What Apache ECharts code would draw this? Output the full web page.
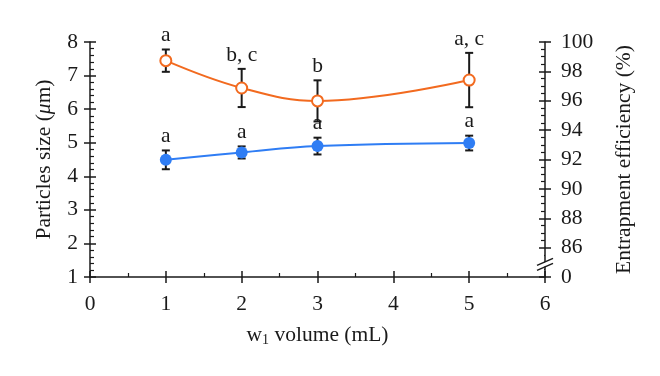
<!DOCTYPE html>
<html>
<head>
<meta charset="utf-8">
<script src="https://cdn.jsdelivr.net/npm/echarts@6/dist/echarts.min.js"></script>
<style>
  html, body { margin: 0; background: #fff; }
  #main { width: 660px; height: 376px; }
</style>
</head>
<body>
<div id="main"></div>
<script>
// w1 volume (mL)
const volumes = [1, 2, 3, 5];
// particles size (um), left axis
const sizeMean = [4.49, 4.71, 4.90, 4.99];
const sizeErr = [0.28, 0.18, 0.25, 0.22];
const sizeLetters = ['a', 'a', 'a', 'a'];
// entrapment efficiency (%), right axis
const eeMean = [98.73, 96.87, 95.99, 97.41];
const eeErr = [0.76, 1.30, 1.40, 1.85];
const eeLetters = ['a', 'b, c', 'b', 'a, c'];

const FONT = '"Liberation Serif", "DejaVu Serif", serif';
const FS = 21.5;
const INK = '#1a1a1a';

var myChart = echarts.init(document.getElementById('main'));

// error bars + significance letters
function errorBars(mean, err, letters, yIdx) {
    return {
        type: 'custom',
        yAxisIndex: yIdx,
        z: 4,
        silent: true,
        data: volumes.map((v, i) => [v, mean[i] - err[i], mean[i] + err[i]]),
        encode: { x: 0, y: [1, 2] },
        renderItem(params, api) {
            const lo = api.coord([api.value(0), api.value(1)]);
            const hi = api.coord([api.value(0), api.value(2)]);
            const w = 4;
            const st = { stroke: INK, lineWidth: 2 };
            return {
                type: 'group',
                children: [
                    { type: 'line', shape: { x1: lo[0], y1: lo[1], x2: hi[0], y2: hi[1] }, style: st },
                    { type: 'line', shape: { x1: lo[0] - w, y1: lo[1], x2: lo[0] + w, y2: lo[1] }, style: st },
                    { type: 'line', shape: { x1: hi[0] - w, y1: hi[1], x2: hi[0] + w, y2: hi[1] }, style: st },
                    {
                        type: 'text', x: hi[0], y: hi[1] - 3,
                        style: {
                            text: letters[params.dataIndex], fill: INK,
                            font: FS + 'px ' + FONT, align: 'center', verticalAlign: 'bottom'
                        }
                    }
                ]
            };
        }
    };
}

const axisLine = { show: true, onZero: false, lineStyle: { color: INK, width: 1.5 } };
const labelStyle = { color: INK, fontFamily: FONT, fontSize: FS };
const nameStyle = { color: INK, fontFamily: FONT, fontSize: FS };

// overlay axes draw the inner half of the ticks plus minor ticks
function overlayY(pos, min, max, interval, minorSplit) {
    return {
        type: 'value', position: pos, min: min, max: max, interval: interval,
        axisLine: { show: false, onZero: false },
        axisLabel: { show: false },
        splitLine: { show: false },
        axisTick: { show: true, inside: true, length: 6, lineStyle: { color: INK, width: 1.5 } },
        minorTick: { show: true, splitNumber: minorSplit, length: 4, lineStyle: { color: INK, width: 1.2 } }
    };
}

myChart.setOption({
    animation: false,
    grid: { left: 90, right: 115, top: 42, bottom: 99, containLabel: false },
    xAxis: [
        {
            type: 'value', min: 0, max: 6, interval: 1,
            axisLine: axisLine,
            axisTick: { show: true, length: 6, lineStyle: { color: INK, width: 1.5 } },
            axisLabel: Object.assign({ margin: 16 }, labelStyle),
            splitLine: { show: false },
            name: '{a|w}{s|1}{a| volume (mL)}',
            nameLocation: 'middle',
            nameGap: 47,
            nameTextStyle: {
                rich: {
                    a: { fontFamily: FONT, fontSize: FS, color: INK },
                    s: { fontFamily: FONT, fontSize: 14, color: INK, verticalAlign: 'bottom', padding: [9, 0, 0, 0] }
                }
            }
        },
        {
            type: 'value', position: 'bottom', min: 0, max: 6, interval: 1,
            axisLine: { show: false, onZero: false }, axisLabel: { show: false }, splitLine: { show: false },
            axisTick: { show: true, inside: true, length: 6, lineStyle: { color: INK, width: 1.5 } },
            minorTick: { show: true, splitNumber: 2, length: 4, lineStyle: { color: INK, width: 1.2 } }
        }
    ],
    yAxis: [
        {
            type: 'value', position: 'left', min: 1, max: 8, interval: 1,
            axisLine: axisLine,
            axisTick: { show: true, length: 6, lineStyle: { color: INK, width: 1.5 } },
            axisLabel: Object.assign({ margin: 12 }, labelStyle),
            splitLine: { show: false },
            name: '{a|Particles size (}{i|μ}{a|m)}',
            nameLocation: 'middle',
            nameGap: 35,
            nameTextStyle: {
                rich: {
                    a: { fontFamily: FONT, fontSize: FS, color: INK },
                    i: { fontFamily: FONT, fontSize: FS, color: INK, fontStyle: 'italic' }
                }
            }
        },
        {
            type: 'value', position: 'right', min: 84, max: 100, interval: 2,
            axisLine: axisLine,
            axisTick: { show: true, length: 6, lineStyle: { color: INK, width: 1.5 } },
            axisLabel: Object.assign({ margin: 16, formatter: v => (v === 84 ? '0' : String(v)) }, labelStyle),
            splitLine: { show: false },
            name: 'Entrapment efficiency (%)',
            nameLocation: 'middle',
            nameGap: 68,
            nameTextStyle: nameStyle
        },
        overlayY('left', 1, 8, 1, 5),
        overlayY('right', 84, 100, 2, 4)
    ],
    series: [
        {
            name: 'Particles size',
            type: 'line',
            yAxisIndex: 0,
            smooth: 0.4,
            z: 6,
            data: volumes.map((v, i) => [v, sizeMean[i]]),
            symbol: 'circle',
            symbolSize: 12,
            lineStyle: { color: '#2f7df4', width: 2 },
            itemStyle: { color: '#2f7df4' }
        },
        {
            name: 'Entrapment efficiency',
            type: 'line',
            yAxisIndex: 1,
            smooth: 0.4,
            z: 6,
            data: volumes.map((v, i) => [v, eeMean[i]]),
            symbol: 'circle',
            symbolSize: 11,
            lineStyle: { color: '#f26a1f', width: 2 },
            itemStyle: { color: '#fff', borderColor: '#f26a1f', borderWidth: 2 }
        },
        errorBars(sizeMean, sizeErr, sizeLetters, 0),
        errorBars(eeMean, eeErr, eeLetters, 1)
    ]
});

// axis break on the right axis, between 0 and 86
const ax = myChart.convertToPixel({ yAxisIndex: 1 }, 84);
const bx = myChart.convertToPixel({ xAxisIndex: 0 }, 6);
const brkY = myChart.convertToPixel({ yAxisIndex: 1 }, 85);
const y86 = myChart.convertToPixel({ yAxisIndex: 1 }, 86);
myChart.setOption({
    graphic: [
        // hide minor ticks inside the break region
        { type: 'rect', z: 100, shape: { x: bx - 7, y: y86 + 2, width: 6, height: ax - y86 - 4 }, style: { fill: '#fff' } },
        { type: 'polygon', z: 100, shape: { points: [[bx - 8, brkY + 4], [bx + 8, brkY - 4], [bx + 8, brkY], [bx - 8, brkY + 8]] }, style: { fill: '#fff' } },
        { type: 'line', z: 101, shape: { x1: bx - 8, y1: brkY + 3, x2: bx + 8, y2: brkY - 4 }, style: { stroke: INK, lineWidth: 1.5 } },
        { type: 'line', z: 101, shape: { x1: bx - 8, y1: brkY + 8, x2: bx + 8, y2: brkY + 1 }, style: { stroke: INK, lineWidth: 1.5 } }
    ]
});
</script>
</body>
</html>
